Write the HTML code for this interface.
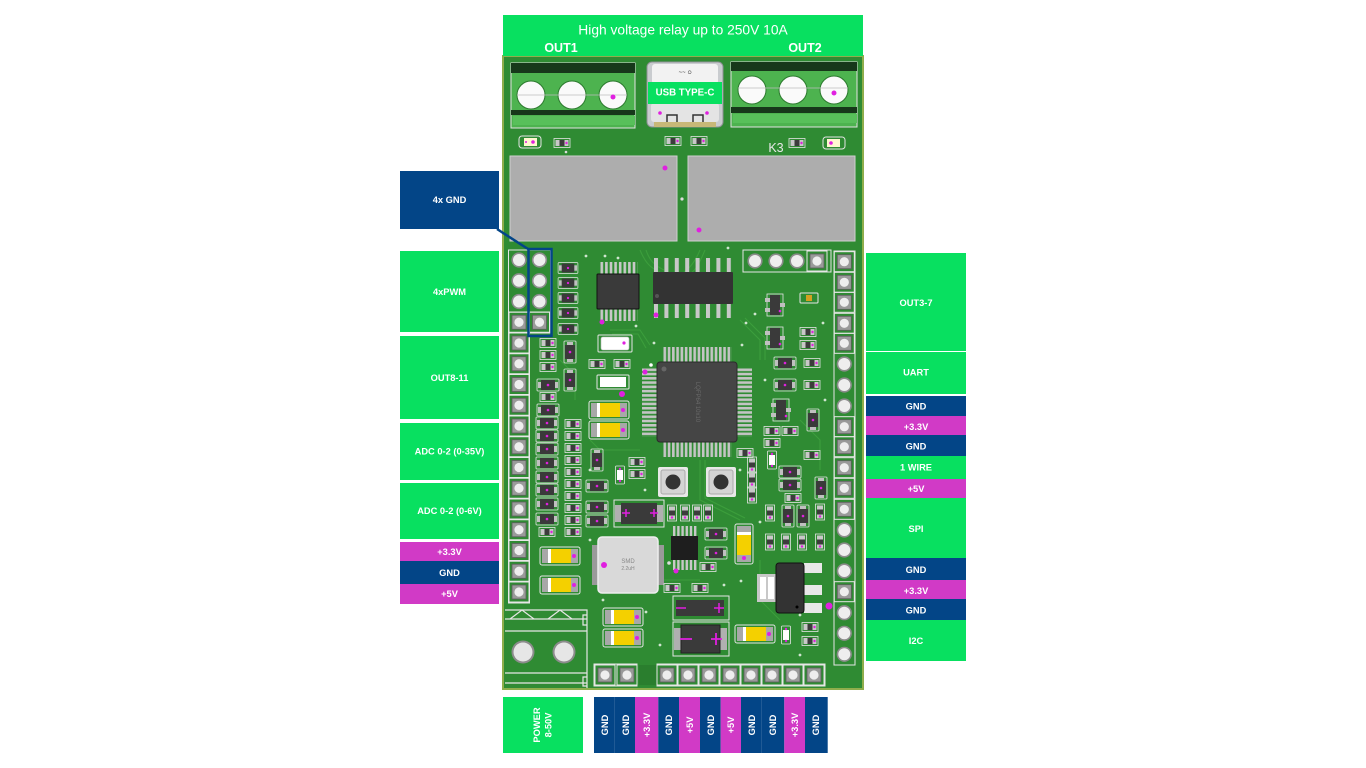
<!DOCTYPE html>
<html><head><meta charset="utf-8">
<style>
html,body{margin:0;padding:0;background:#fff;}
body{width:1366px;height:768px;overflow:hidden;}
svg{display:block;font-family:"Liberation Sans",Arial,sans-serif;}
.l{fill:#fff;font-weight:bold;font-size:9.3px;text-anchor:middle;dominant-baseline:central;}
</style></head><body>
<svg width="1366" height="768" viewBox="0 0 1366 768">
<defs>
 <g id="sq"><rect x="-10" y="-10" width="20" height="20" fill="none" stroke="#e6e6e6" stroke-width="1"/><rect x="-7" y="-7" width="14" height="14" fill="#9a9a9a" stroke="#5e5e5e" stroke-width=".8"/><circle r="4.6" fill="#eeeeee"/></g>
 <g id="rd"><circle r="7.6" fill="#8c8c8c"/><circle r="6" fill="#eeeeee"/></g>
 <g id="r"><rect x="-8" y="-4.5" width="16" height="9" fill="none" stroke="#e4e4e4" stroke-width=".8"/><rect x="-6.5" y="-3" width="4" height="6" fill="#c8c8c8"/><rect x="2.5" y="-3" width="4" height="6" fill="#c8c8c8"/><rect x="-2.5" y="-3" width="5" height="6" fill="#3c3c3c"/><circle cx="4.5" r="1.2" fill="#e020e0"/></g>
 <g id="d"><rect x="-11" y="-6" width="22" height="12" rx="1" fill="none" stroke="#e4e4e4" stroke-width=".8"/><rect x="-10" y="-3" width="4" height="6" fill="#c0c0c0"/><rect x="6" y="-3" width="4" height="6" fill="#c0c0c0"/><rect x="-7" y="-5" width="14" height="10" fill="#3a3a3a"/><circle r="1.3" fill="#e020e0"/></g>
 <g id="cap"><rect x="-20" y="-9" width="40" height="18" rx="2" fill="#2f8b33" stroke="#e4e4e4" stroke-width="1"/><rect x="-18" y="-7" width="36" height="14" fill="#a8a8a8"/><rect x="-12" y="-7" width="3" height="14" fill="#fff"/><rect x="-9" y="-7" width="20" height="14" fill="#f4d000"/><circle cx="14" r="2" fill="#e020e0"/></g>
 <g id="sot"><rect x="-8" y="-11" width="16" height="22" fill="none" stroke="#e4e4e4" stroke-width=".8"/><rect x="-5" y="-10" width="10" height="20" fill="#3a3a3a"/><rect x="-10" y="-7" width="5" height="4" fill="#c0c0c0"/><rect x="-10" y="3" width="5" height="4" fill="#c0c0c0"/><rect x="5" y="-2" width="5" height="4" fill="#c0c0c0"/><circle cx="5" cy="6" r="1.3" fill="#e020e0"/></g>
 <g id="wl"><rect x="-4.5" y="-9" width="9" height="18" rx="1" fill="none" stroke="#e4e4e4" stroke-width=".8"/><rect x="-3" y="-5" width="6" height="10" fill="#ffffff"/><circle cy="-6" r="1.2" fill="#e020e0"/><circle cy="6" r="1.2" fill="#e020e0"/></g>
 <pattern id="pv" x="663.5" y="0" width="4.27" height="20" patternUnits="userSpaceOnUse"><rect width="2.6" height="20" fill="#c4c4c4"/></pattern>
 <pattern id="ph" x="0" y="368.5" width="20" height="4.27" patternUnits="userSpaceOnUse"><rect width="20" height="2.6" fill="#c4c4c4"/></pattern>
 <pattern id="pso" x="654" y="0" width="10.4" height="20" patternUnits="userSpaceOnUse"><rect width="4" height="20" fill="#c8c8c8"/></pattern>
 <pattern id="pq" x="600.5" y="0" width="4.6" height="20" patternUnits="userSpaceOnUse"><rect width="2.6" height="20" fill="#c8c8c8"/></pattern>
 <pattern id="pq2" x="673" y="0" width="4.2" height="20" patternUnits="userSpaceOnUse"><rect width="2.4" height="20" fill="#c8c8c8"/></pattern>
</defs>

<!-- BOARD -->
<rect x="503" y="56" width="360" height="633" fill="#2f8b33" stroke="#8fae4c" stroke-width="2"/>

<!-- faint traces -->
<g fill="none" stroke="#3c9e3c" stroke-width="1.1">
 <path d="M640 250 C645 262 650 268 660 272"/>
 <path d="M646 250 C650 262 656 266 664 270"/>
 <path d="M700 250 C695 262 690 268 684 272"/>
 <path d="M705 250 C700 262 696 270 690 274"/>
 <path d="M610 330 L640 330 L650 345"/>
 <path d="M612 334 L638 334 L646 348"/>
 <path d="M740 320 L760 340 L760 360"/>
 <path d="M745 318 L765 338 L765 360"/>
 <path d="M590 440 L600 450 L640 450"/>
 <path d="M700 460 L700 500 L740 520"/>
 <path d="M705 460 L705 498 L745 518"/>
 <path d="M760 560 L760 600 L780 620"/>
 <path d="M640 560 L660 580 L700 580"/>
 <path d="M560 360 L575 375 L575 400"/>
 <path d="M800 420 L820 440 L820 470"/>
</g>

<!-- BANNER -->
<rect x="503" y="15" width="360" height="41" fill="#08e060"/>
<text x="683" y="30" fill="#fff" font-size="13.8" text-anchor="middle" dominant-baseline="central">High voltage relay up to 250V 10A</text>
<text x="561" y="48" fill="#fff" font-size="12.5" font-weight="bold" text-anchor="middle" dominant-baseline="central">OUT1</text>
<text x="805" y="48" fill="#fff" font-size="12.5" font-weight="bold" text-anchor="middle" dominant-baseline="central">OUT2</text>

<!-- Terminal OUT1 -->
<rect x="511" y="63" width="124" height="65" fill="#4db34f" stroke="#e2e2e2" stroke-width="1"/>
<rect x="511" y="63" width="124" height="10" fill="#17381a"/>
<rect x="511" y="110" width="124" height="5" fill="#17381a"/>
<rect x="513" y="116" width="122" height="9" fill="#58c05a"/>
<g fill="#fafafa" stroke="#2c7a2e" stroke-width="1"><circle cx="531" cy="95" r="14"/><circle cx="572" cy="95" r="14"/><circle cx="613" cy="95" r="14"/></g>
<line x1="517" y1="95" x2="627" y2="95" stroke="#bcbcbc" stroke-width=".8"/>
<circle cx="613" cy="97" r="2.5" fill="#e020e0"/>

<!-- Terminal OUT2 -->
<rect x="731" y="62" width="126" height="65" fill="#4db34f" stroke="#e2e2e2" stroke-width="1"/>
<rect x="731" y="62" width="126" height="9" fill="#17381a"/>
<rect x="731" y="107" width="126" height="6" fill="#17381a"/>
<rect x="733" y="114" width="124" height="9" fill="#58c05a"/>
<g fill="#fafafa" stroke="#2c7a2e" stroke-width="1"><circle cx="752" cy="90" r="14"/><circle cx="793" cy="90" r="14"/><circle cx="834" cy="90" r="14"/></g>
<line x1="738" y1="88" x2="848" y2="88" stroke="#bcbcbc" stroke-width=".8"/>
<circle cx="834" cy="93" r="2.5" fill="#e020e0"/>

<!-- USB-C -->
<rect x="647" y="62" width="76" height="65" rx="5" fill="#c9cccf" stroke="#8e9194" stroke-width="1"/>
<rect x="652" y="64" width="66" height="20" rx="3" fill="#f2f2f2"/>
<text x="685" y="73" fill="#444" font-size="6" text-anchor="middle" dominant-baseline="central">~~ ഠ</text>
<rect x="651" y="103" width="68" height="19" rx="3" fill="#e4e4e4"/>
<path d="M667 123 V115 H677 V123 M693 123 V115 H703 V123" fill="none" stroke="#333" stroke-width="1.5"/>
<rect x="654" y="122" width="62" height="5" fill="#c8b878"/>
<circle cx="660" cy="113" r="1.8" fill="#e020e0"/><circle cx="707" cy="113" r="1.8" fill="#e020e0"/>
<rect x="648" y="82" width="74" height="22" fill="#08e060"/>
<text x="685" y="93" fill="#fff" font-size="9.7" font-weight="bold" text-anchor="middle" dominant-baseline="central">USB TYPE-C</text>

<!-- top row small parts -->
<rect x="519" y="136" width="22" height="12" rx="3" fill="none" stroke="#e4e4e4" stroke-width="1"/>
<rect x="524" y="138" width="13" height="8" fill="#fff8d0"/><circle cx="533" cy="142" r="1.8" fill="#e020e0"/><circle cx="526" cy="142" r="1" fill="#e020e0"/>
<use href="#r" x="562" y="143"/>
<use href="#r" x="673" y="141"/>
<use href="#r" x="699" y="141"/>
<use href="#r" x="797" y="143"/>
<rect x="823" y="137" width="22" height="12" rx="3" fill="none" stroke="#e4e4e4" stroke-width="1"/>
<rect x="827" y="139" width="13" height="8" fill="#fff8d0"/><circle cx="831" cy="143" r="1.8" fill="#e020e0"/>
<text x="776" y="148" fill="#e8e8e8" font-size="12.5" text-anchor="middle" dominant-baseline="central">K3</text>
<circle cx="566" cy="152" r="1.3" fill="#ddd"/>

<!-- Relays -->
<rect x="510" y="156" width="167" height="85" fill="#adadad" stroke="#d0d0d0" stroke-width="1"/>
<rect x="688" y="156" width="167" height="85" fill="#adadad" stroke="#d0d0d0" stroke-width="1"/>
<circle cx="665" cy="168" r="2.5" fill="#e020e0"/>
<circle cx="699" cy="230" r="2.5" fill="#e020e0"/>
<circle cx="682" cy="199" r="1.6" fill="#ddd"/>

<!-- LEFT HEADER -->
<rect x="508.5" y="250" width="42" height="83" fill="none" stroke="#e6e6e6" stroke-width="1"/>
<line x1="508.5" y1="312" x2="550.5" y2="312" stroke="#e6e6e6"/>
<line x1="529.5" y1="312" x2="529.5" y2="333" stroke="#e6e6e6"/>
<rect x="508.5" y="333" width="21" height="270" fill="none" stroke="#e6e6e6" stroke-width="1"/>
<use href="#rd" x="519" y="260"/><use href="#rd" x="519" y="280.75"/><use href="#rd" x="519" y="301.5"/>
<use href="#rd" x="539.5" y="260"/><use href="#rd" x="539.5" y="280.75"/><use href="#rd" x="539.5" y="301.5"/>
<use href="#sq" x="539.5" y="322.25"/>
<use href="#sq" x="519" y="322.25"/><use href="#sq" x="519" y="343"/><use href="#sq" x="519" y="363.75"/><use href="#sq" x="519" y="384.5"/><use href="#sq" x="519" y="405.25"/><use href="#sq" x="519" y="426"/><use href="#sq" x="519" y="446.75"/><use href="#sq" x="519" y="467.5"/><use href="#sq" x="519" y="488.25"/><use href="#sq" x="519" y="509"/><use href="#sq" x="519" y="529.75"/><use href="#sq" x="519" y="550.5"/><use href="#sq" x="519" y="571.25"/><use href="#sq" x="519" y="592"/>

<!-- RIGHT HEADER -->
<rect x="834" y="251" width="21" height="414" fill="none" stroke="#e6e6e6" stroke-width="1"/>
<use href="#sq" x="844.3" y="261.7"/><use href="#sq" x="844.3" y="282.3"/><use href="#sq" x="844.3" y="302.3"/><use href="#sq" x="844.3" y="323.3"/><use href="#sq" x="844.3" y="343.3"/>
<use href="#rd" x="844.3" y="364"/><use href="#rd" x="844.3" y="385"/><use href="#rd" x="844.3" y="406"/>
<use href="#sq" x="844.3" y="426.7"/><use href="#sq" x="844.3" y="446.7"/><use href="#sq" x="844.3" y="467.7"/><use href="#sq" x="844.3" y="488.3"/><use href="#sq" x="844.3" y="509.3"/>
<use href="#rd" x="844.3" y="530"/><use href="#rd" x="844.3" y="550"/><use href="#rd" x="844.3" y="571"/>
<use href="#sq" x="844.3" y="591.7"/>
<use href="#rd" x="844.3" y="612.7"/><use href="#rd" x="844.3" y="633.3"/><use href="#rd" x="844.3" y="654.3"/>

<!-- TOP 4-pin row -->
<rect x="743" y="250" width="88" height="22" fill="none" stroke="#e6e6e6" stroke-width="1"/>
<use href="#rd" x="755" y="261"/><use href="#rd" x="776" y="261"/><use href="#rd" x="797" y="261"/><use href="#sq" x="817" y="261"/>

<!-- BOTTOM pin rows -->
<rect x="594" y="664" width="43" height="22" fill="none" stroke="#e6e6e6" stroke-width="1"/>
<rect x="639" y="665" width="18" height="20" fill="#2a7e2e"/>
<rect x="657" y="664" width="168" height="22" fill="none" stroke="#e6e6e6" stroke-width="1"/>
<use href="#sq" x="605" y="675"/><use href="#sq" x="627" y="675"/>
<use href="#sq" x="667" y="675"/><use href="#sq" x="688" y="675"/><use href="#sq" x="709" y="675"/><use href="#sq" x="730" y="675"/><use href="#sq" x="751" y="675"/><use href="#sq" x="772" y="675"/><use href="#sq" x="793" y="675"/><use href="#sq" x="814" y="675"/>

<!-- POWER terminal silk -->
<g fill="none" stroke="#e6e6e6" stroke-width="1.2">
 <path d="M505 610 H587 V688"/>
 <path d="M505 619 H587"/>
 <path d="M510 619 L522 610 L534 619 M548 619 L560 610 L572 619"/>
 <path d="M505 631 H587"/>
 <path d="M505 673 H587"/>
 <path d="M505 683 H587"/>
 <path d="M587 615 H583 V625 H587 M587 677 H583 V686 H587"/>
</g>
<circle cx="523" cy="652" r="11.5" fill="#8c8c8c"/><circle cx="523" cy="652" r="9.5" fill="#e6e6e6"/>
<circle cx="564" cy="652" r="11.5" fill="#8c8c8c"/><circle cx="564" cy="652" r="9.5" fill="#e6e6e6"/>

<!-- SOIC16 -->
<rect x="654" y="258" width="80" height="15" fill="url(#pso)"/>
<rect x="654" y="303" width="80" height="15" fill="url(#pso)"/>
<rect x="653" y="272" width="80" height="32" rx="1" fill="#333"/>
<circle cx="657" cy="296" r="2" fill="#555"/>
<circle cx="656" cy="315" r="2.5" fill="#e020e0"/>

<!-- left QFP small -->
<rect x="600.5" y="262" width="37" height="13" fill="url(#pq)"/>
<rect x="600.5" y="308" width="37" height="13" fill="url(#pq)"/>
<rect x="597" y="274" width="42" height="35" rx="1" fill="#3a3a3a" stroke="#111" stroke-width="1"/>
<circle cx="602" cy="322" r="2.5" fill="#e020e0"/>

<!-- left diode column -->
<g transform="translate(568,268) scale(.9)"><use href="#d"/></g>
<g transform="translate(568,283) scale(.9)"><use href="#d"/></g>
<g transform="translate(568,298) scale(.9)"><use href="#d"/></g>
<g transform="translate(568,313) scale(.9)"><use href="#d"/></g>
<g transform="translate(568,329) scale(.9)"><use href="#d"/></g>

<!-- left-middle parts -->
<use href="#r" x="548" y="343"/><use href="#r" x="548" y="355"/><use href="#r" x="548" y="367"/>
<g transform="translate(570,352) rotate(90)"><use href="#d"/></g>
<g transform="translate(570,380) rotate(90)"><use href="#d"/></g>
<use href="#d" x="548" y="385"/>
<use href="#r" x="548" y="397"/>
<use href="#d" x="548" y="410"/>
<use href="#d" x="547" y="423"/><use href="#d" x="547" y="436"/><use href="#d" x="547" y="449"/><use href="#d" x="547" y="463"/><use href="#d" x="547" y="477"/><use href="#d" x="547" y="490"/><use href="#d" x="547" y="504"/><use href="#d" x="547" y="519"/><use href="#r" x="547" y="532"/>
<use href="#r" x="573" y="424"/><use href="#r" x="573" y="436"/><use href="#r" x="573" y="448"/><use href="#r" x="573" y="460"/><use href="#r" x="573" y="472"/><use href="#r" x="573" y="484"/><use href="#r" x="573" y="496"/><use href="#r" x="573" y="508"/><use href="#r" x="573" y="520"/><use href="#r" x="573" y="532"/>

<!-- white parts -->
<rect x="598" y="335" width="34" height="17" rx="1" fill="none" stroke="#e4e4e4"/>
<rect x="601" y="337" width="28" height="13" rx="2" fill="#ffffff" stroke="#bbb" stroke-width=".6"/>
<circle cx="624" cy="343" r="1.6" fill="#e020e0"/>
<use href="#r" x="597" y="364"/><use href="#r" x="622" y="364"/>
<rect x="597" y="375" width="32" height="14" rx="1" fill="none" stroke="#e4e4e4"/>
<rect x="600" y="377" width="26" height="10" fill="#ffffff"/>
<circle cx="622" cy="394" r="3" fill="#e020e0"/>
<use href="#cap" x="609" y="410"/>
<use href="#cap" x="609" y="430"/>
<g transform="translate(597,460) rotate(90)"><use href="#d"/></g>
<use href="#wl" x="620" y="475"/>
<use href="#r" x="637" y="462"/><use href="#r" x="637" y="474"/>
<use href="#d" x="597" y="486"/>
<use href="#d" x="597" y="507"/><use href="#d" x="597" y="521"/>

<!-- big diode -->
<rect x="614" y="500" width="50" height="27" fill="none" stroke="#e4e4e4"/>
<rect x="615" y="505" width="7" height="17" fill="#b0b0b0"/><rect x="656" y="505" width="7" height="17" fill="#b0b0b0"/>
<rect x="621" y="503" width="36" height="21" fill="#3a3a3a"/>
<path d="M622 513 H630 M626 509 V517 M650 513 H658 M654 509 V517" stroke="#e020e0" stroke-width="1.5"/>

<!-- MCU -->
<rect x="663.5" y="347" width="68.3" height="15" fill="url(#pv)"/>
<rect x="663.5" y="442" width="68.3" height="15" fill="url(#pv)"/>
<rect x="642" y="368.5" width="15" height="68.3" fill="url(#ph)"/>
<rect x="737" y="368.5" width="15" height="68.3" fill="url(#ph)"/>
<rect x="657" y="362" width="80" height="80" rx="3" fill="#454545" stroke="#2a2a2a" stroke-width="1"/>
<circle cx="664" cy="369" r="2.5" fill="#666"/>
<text transform="translate(697,402) rotate(90)" fill="#6a6a6a" font-size="6" text-anchor="middle" dominant-baseline="central">LQFP64 10x10</text>
<circle cx="645" cy="372" r="2.5" fill="#e020e0"/>
<circle cx="651" cy="365" r="1.8" fill="#fff"/>

<!-- small group right of big diode -->
<g transform="translate(672,513) rotate(90)"><use href="#r"/></g>
<g transform="translate(685,513) rotate(90)"><use href="#r"/></g>
<g transform="translate(697,513) rotate(90)"><use href="#r"/></g>
<g transform="translate(708,513) rotate(90)"><use href="#r"/></g>

<!-- buttons -->
<rect x="658" y="467" width="30" height="30" rx="2" fill="#e8e8e8"/>
<rect x="661" y="470" width="24" height="24" rx="2" fill="#d4d4d4" stroke="#aaa"/>
<circle cx="673" cy="482" r="7.5" fill="#333"/>
<rect x="706" y="467" width="30" height="30" rx="2" fill="#e8e8e8"/>
<rect x="709" y="470" width="24" height="24" rx="2" fill="#d4d4d4" stroke="#aaa"/>
<circle cx="721" cy="482" r="7.5" fill="#333"/>

<!-- right side parts -->
<use href="#sot" x="775" y="305"/>
<use href="#sot" x="775" y="338"/>
<rect x="800" y="293" width="18" height="10" rx="1" fill="none" stroke="#e4e4e4"/><rect x="806" y="295" width="6" height="6" fill="#d4a020"/>
<use href="#r" x="808" y="332"/><use href="#r" x="808" y="345"/>
<use href="#d" x="785" y="363"/><use href="#r" x="812" y="363"/>
<use href="#d" x="785" y="385"/><use href="#r" x="812" y="385"/>
<use href="#sot" x="781" y="410"/>
<g transform="translate(813,420) rotate(90)"><use href="#d"/></g>
<use href="#r" x="772" y="431"/><use href="#r" x="790" y="431"/>
<use href="#r" x="772" y="443"/>
<use href="#r" x="745" y="453"/>
<use href="#wl" x="772" y="460"/>
<use href="#d" x="790" y="472"/><use href="#d" x="790" y="485"/>
<use href="#r" x="812" y="455"/>
<g transform="translate(821,488) rotate(90)"><use href="#d"/></g>
<g transform="translate(752,465) rotate(90)"><use href="#r"/></g>
<g transform="translate(752,480) rotate(90)"><use href="#r"/></g>
<g transform="translate(752,495) rotate(90)"><use href="#r"/></g>
<use href="#r" x="793" y="498"/>
<g transform="translate(770,513) rotate(90)"><use href="#r"/></g>
<g transform="translate(788,516) rotate(90)"><use href="#d"/></g>
<g transform="translate(803,516) rotate(90)"><use href="#d"/></g>
<g transform="translate(820,512) rotate(90)"><use href="#r"/></g>
<g transform="translate(770,542) rotate(90)"><use href="#r"/></g>
<g transform="translate(786,542) rotate(90)"><use href="#r"/></g>
<g transform="translate(802,542) rotate(90)"><use href="#r"/></g>
<g transform="translate(820,542) rotate(90)"><use href="#r"/></g>

<!-- bottom area -->
<use href="#cap" x="560" y="556"/>
<use href="#cap" x="560" y="585"/>
<!-- inductor -->
<rect x="592" y="545" width="8" height="40" fill="#9a9a9a"/>
<rect x="656" y="545" width="8" height="40" fill="#9a9a9a"/>
<rect x="598" y="537" width="60" height="56" rx="4" fill="#d9d9d9" stroke="#eeeeee" stroke-width="1.5"/>
<text x="628" y="562" fill="#888" font-size="6" text-anchor="middle" dominant-baseline="central">SMD</text>
<text x="628" y="569" fill="#888" font-size="5" text-anchor="middle" dominant-baseline="central">2.2uH</text>
<circle cx="604" cy="565" r="3" fill="#e020e0"/>
<!-- small QFN -->
<rect x="673" y="526" width="24" height="11" fill="url(#pq2)"/>
<rect x="673" y="559" width="24" height="11" fill="url(#pq2)"/>
<rect x="671" y="536" width="27" height="24" fill="#1e1e1e"/>
<circle cx="669" cy="563" r="1.8" fill="#ddd"/>
<circle cx="676" cy="571" r="2.5" fill="#e020e0"/>
<use href="#d" x="716" y="534"/><use href="#d" x="716" y="553"/>
<use href="#r" x="708" y="567"/>
<g transform="translate(744,544) rotate(90)"><use href="#cap"/></g>
<use href="#r" x="672" y="588"/><use href="#r" x="700" y="588"/>
<!-- diode 2 -->
<rect x="673" y="596" width="56" height="24" fill="none" stroke="#e4e4e4"/>
<rect x="676" y="600" width="48" height="16" fill="#3a3a3a"/>
<path d="M676 608 H686 M714 608 H724 M719 603 V613" stroke="#e020e0" stroke-width="1.5"/>
<!-- big diode 3 -->
<rect x="673" y="622" width="56" height="34" fill="none" stroke="#e4e4e4"/>
<rect x="674" y="628" width="8" height="22" fill="#b0b0b0"/><rect x="719" y="628" width="8" height="22" fill="#b0b0b0"/>
<rect x="681" y="625" width="39" height="28" fill="#3a3a3a" stroke="#222"/>
<path d="M680 639 H692 M711 639 H722 M716 633 V645" stroke="#e020e0" stroke-width="1.8"/>
<use href="#cap" x="623" y="617"/>
<use href="#cap" x="623" y="638"/>
<use href="#cap" x="755" y="634"/>
<use href="#wl" x="786" y="635"/>
<use href="#r" x="810" y="627"/><use href="#r" x="810" y="641"/>

<!-- regulator -->
<rect x="757" y="574" width="20" height="28" fill="#c8c8c8"/>
<rect x="760" y="577" width="6" height="22" fill="#ffffff"/>
<rect x="768" y="577" width="6" height="22" fill="#ffffff"/>
<rect x="804" y="563" width="18" height="10" fill="#e8e8e8"/>
<rect x="804" y="585" width="18" height="10" fill="#e8e8e8"/>
<rect x="804" y="603" width="18" height="10" fill="#e8e8e8"/>
<rect x="776" y="563" width="28" height="50" rx="3" fill="#333" stroke="#111"/>
<circle cx="797" cy="607" r="1.5" fill="#000"/>
<circle cx="829" cy="606" r="3.5" fill="#e020e0"/>

<!-- vias -->
<g fill="#cfe5cf">
 <circle cx="586" cy="256" r="1.4"/><circle cx="605" cy="256" r="1.4"/><circle cx="618" cy="258" r="1.4"/><circle cx="728" cy="248" r="1.4"/>
 <circle cx="746" cy="323" r="1.4"/><circle cx="755" cy="314" r="1.4"/><circle cx="823" cy="323" r="1.4"/><circle cx="636" cy="326" r="1.4"/>
 <circle cx="654" cy="343" r="1.4"/><circle cx="742" cy="345" r="1.4"/><circle cx="765" cy="380" r="1.4"/><circle cx="825" cy="400" r="1.4"/>
 <circle cx="590" cy="470" r="1.4"/><circle cx="645" cy="490" r="1.4"/><circle cx="740" cy="470" r="1.4"/><circle cx="760" cy="522" r="1.4"/>
 <circle cx="741" cy="581" r="1.4"/><circle cx="724" cy="585" r="1.4"/><circle cx="590" cy="540" r="1.4"/><circle cx="603" cy="600" r="1.4"/>
 <circle cx="646" cy="612" r="1.4"/><circle cx="800" cy="615" r="1.4"/><circle cx="800" cy="655" r="1.4"/><circle cx="660" cy="645" r="1.4"/>
</g>

<!-- LEFT LABELS -->
<rect x="400" y="171" width="99" height="58" fill="#034587"/>
<text class="l" x="449.5" y="200">4x GND</text>
<rect x="400" y="251" width="99" height="81" fill="#08e060"/>
<text class="l" x="449.5" y="292">4xPWM</text>
<rect x="400" y="336" width="99" height="83" fill="#08e060"/>
<text class="l" x="449.5" y="378">OUT8-11</text>
<rect x="400" y="423" width="99" height="57" fill="#08e060"/>
<text class="l" x="449.5" y="451.5">ADC 0-2 (0-35V)</text>
<rect x="400" y="483" width="99" height="56" fill="#08e060"/>
<text class="l" x="449.5" y="511">ADC 0-2 (0-6V)</text>
<rect x="400" y="542" width="99" height="19" fill="#d13ac6"/>
<text class="l" x="449.5" y="552">+3.3V</text>
<rect x="400" y="561" width="99" height="23" fill="#034587"/>
<text class="l" x="449.5" y="573">GND</text>
<rect x="400" y="584" width="99" height="20" fill="#d13ac6"/>
<text class="l" x="449.5" y="594">+5V</text>

<!-- GND highlight -->
<path d="M497 229 L528 249" stroke="#034587" stroke-width="2.5" fill="none"/>
<rect x="528.5" y="249" width="23" height="87" fill="none" stroke="#034587" stroke-width="2.5"/>

<!-- RIGHT LABELS -->
<rect x="866" y="253" width="100" height="98" fill="#08e060"/>
<text class="l" x="916" y="303">OUT3-7</text>
<rect x="866" y="352" width="100" height="42" fill="#08e060"/>
<text class="l" x="916" y="372.5">UART</text>
<rect x="866" y="396" width="100" height="20" fill="#034587"/>
<text class="l" x="916" y="406.5">GND</text>
<rect x="866" y="416" width="100" height="19" fill="#d13ac6"/>
<text class="l" x="916" y="427">+3.3V</text>
<rect x="866" y="435" width="100" height="21" fill="#034587"/>
<text class="l" x="916" y="446.5">GND</text>
<rect x="866" y="456" width="100" height="23" fill="#08e060"/>
<text class="l" x="916" y="467.5">1 WIRE</text>
<rect x="866" y="479" width="100" height="19" fill="#d13ac6"/>
<text class="l" x="916" y="489">+5V</text>
<rect x="866" y="498" width="100" height="60" fill="#08e060"/>
<text class="l" x="916" y="529">SPI</text>
<rect x="866" y="558" width="100" height="22" fill="#034587"/>
<text class="l" x="916" y="570">GND</text>
<rect x="866" y="580" width="100" height="19" fill="#d13ac6"/>
<text class="l" x="916" y="591">+3.3V</text>
<rect x="866" y="599" width="100" height="21" fill="#034587"/>
<text class="l" x="916" y="610.5">GND</text>
<rect x="866" y="620" width="100" height="41" fill="#08e060"/>
<text class="l" x="916" y="641">I2C</text>

<!-- BOTTOM LABELS -->
<rect x="503" y="697" width="80" height="56" fill="#08e060"/>
<text class="l" transform="translate(537,725) rotate(-90)" font-size="8.8">POWER</text>
<text class="l" transform="translate(548.5,725) rotate(-90)" font-size="8.8">8-50V</text>

<rect x="594" y="697" width="20.3" height="56" fill="#034587"/>
<rect x="614.3" y="697" width="20.7" height="56" fill="#034587"/>
<rect x="635" y="697" width="23.3" height="56" fill="#d13ac6"/>
<rect x="658.3" y="697" width="20.7" height="56" fill="#034587"/>
<rect x="679" y="697" width="21" height="56" fill="#d13ac6"/>
<rect x="700" y="697" width="20.7" height="56" fill="#034587"/>
<rect x="720.7" y="697" width="20.3" height="56" fill="#d13ac6"/>
<rect x="741" y="697" width="20.7" height="56" fill="#034587"/>
<rect x="761.7" y="697" width="22.6" height="56" fill="#034587"/>
<rect x="784.3" y="697" width="20.7" height="56" fill="#d13ac6"/>
<rect x="805" y="697" width="22.7" height="56" fill="#034587"/>
<g font-size="9">
<text class="l" transform="translate(605,725) rotate(-90)">GND</text>
<text class="l" transform="translate(626,725) rotate(-90)">GND</text>
<text class="l" transform="translate(647,725) rotate(-90)">+3.3V</text>
<text class="l" transform="translate(669,725) rotate(-90)">GND</text>
<text class="l" transform="translate(690,725) rotate(-90)">+5V</text>
<text class="l" transform="translate(711,725) rotate(-90)">GND</text>
<text class="l" transform="translate(731,725) rotate(-90)">+5V</text>
<text class="l" transform="translate(752,725) rotate(-90)">GND</text>
<text class="l" transform="translate(773,725) rotate(-90)">GND</text>
<text class="l" transform="translate(795,725) rotate(-90)">+3.3V</text>
<text class="l" transform="translate(816,725) rotate(-90)">GND</text>
</g>
</svg>
</body></html>
